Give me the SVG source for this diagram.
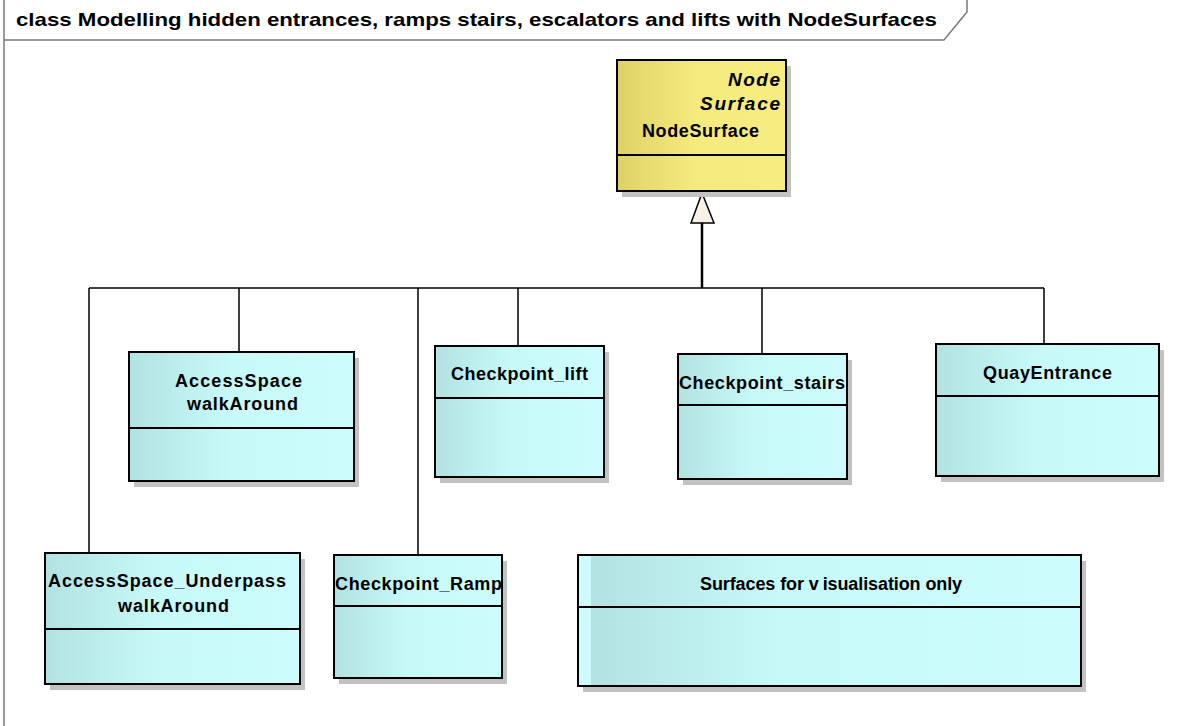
<svg xmlns="http://www.w3.org/2000/svg" width="1201" height="726" viewBox="0 0 1201 726">
<defs>
<linearGradient id="gy" x1="0" y1="0" x2="1" y2="0">
<stop offset="0" stop-color="#dfd165"/>
<stop offset="0.45" stop-color="#f5ea7e"/>
<stop offset="1" stop-color="#f6ec80"/>
</linearGradient>
<linearGradient id="gc" x1="0" y1="0" x2="1" y2="0">
<stop offset="0" stop-color="#b2e3e2"/>
<stop offset="0.45" stop-color="#c8f9f9"/>
<stop offset="1" stop-color="#ccfcfc"/>
</linearGradient>
<linearGradient id="gc2" x1="0" y1="0" x2="1" y2="0">
<stop offset="0" stop-color="#ccfcfc"/>
<stop offset="0.025" stop-color="#ccfcfc"/>
<stop offset="0.026" stop-color="#b2e3e2"/>
<stop offset="0.4" stop-color="#c8f9f9"/>
<stop offset="1" stop-color="#ccfcfc"/>
</linearGradient>
<style>
.sh{fill:#c2c2c2}
.bx{stroke:#000;stroke-width:2}
.dv{stroke:#000;stroke-width:2}
.t{font-family:"Liberation Sans",Arial,sans-serif;font-weight:bold;font-size:18px;fill:#000}
.tt{font-family:"Liberation Sans",Arial,sans-serif;font-weight:bold;font-size:19px;fill:#000}
.ti{font-family:"Liberation Sans",Arial,sans-serif;font-weight:bold;font-style:italic;font-size:19px;fill:#000}
.c{fill:none;stroke:#000;stroke-width:1.5}
.frame{fill:none;stroke:#7a7a7a;stroke-width:1.5}
</style>
</defs>
<rect width="1201" height="726" fill="#fff"/>
<g id="frame">
<path class="frame" d="M4,0 V726 M4,40 H944 L967,12 V0"/>
<text class="tt" x="16" y="26" textLength="921" lengthAdjust="spacingAndGlyphs">class Modelling hidden entrances, ramps stairs, escalators and lifts with NodeSurfaces</text>
</g>
<g id="connectors">
<path class="c" d="M89,288 H1044 M89,288 V553 M239,288 V352 M418,288 V555 M518,288 V346 M762,288 V354 M1044,288 V344"/>
<path d="M702,223 V288" fill="none" stroke="#000" stroke-width="2.5"/>
<polygon points="702,193 691,223 714,223" fill="#f9f1e3" stroke="#000" stroke-width="1.5"/>
</g>
<g id="NodeSurface">
<rect class="sh" x="622" y="66" width="169" height="131"/>
<rect class="bx" x="617" y="60" width="169" height="131" fill="url(#gy)"/>
<line class="dv" x1="617" y1="155" x2="786" y2="155"/>
<text class="ti" x="728" y="86" textLength="52">Node</text>
<text class="ti" x="700" y="110" textLength="80">Surface</text>
<text class="t" x="642" y="137" textLength="117">NodeSurface</text>
</g>
<g id="AccessSpace_walkAround">
<rect class="sh" x="134" y="358" width="225" height="129"/>
<rect class="bx" x="129" y="352" width="225" height="129" fill="url(#gc)"/>
<line class="dv" x1="129" y1="428" x2="354" y2="428"/>
<text class="t" x="175" y="387" textLength="127">AccessSpace</text>
<text class="t" x="187" y="410" textLength="111">walkAround</text>
</g>
<g id="Checkpoint_lift">
<rect class="sh" x="440" y="352" width="169" height="131"/>
<rect class="bx" x="435" y="346" width="169" height="131" fill="url(#gc)"/>
<line class="dv" x1="435" y1="398" x2="604" y2="398"/>
<text class="t" x="451" y="380" textLength="137">Checkpoint_lift</text>
</g>
<g id="Checkpoint_stairs">
<rect class="sh" x="683" y="360" width="169" height="125"/>
<rect class="bx" x="678" y="354" width="169" height="125" fill="url(#gc)"/>
<line class="dv" x1="678" y1="405" x2="847" y2="405"/>
<text class="t" x="679" y="389" textLength="166">Checkpoint_stairs</text>
</g>
<g id="QuayEntrance">
<rect class="sh" x="941" y="350" width="223" height="132"/>
<rect class="bx" x="936" y="344" width="223" height="132" fill="url(#gc)"/>
<line class="dv" x1="936" y1="396" x2="1159" y2="396"/>
<text class="t" x="983" y="379" textLength="129">QuayEntrance</text>
</g>
<g id="AccessSpace_Underpass_walkAround">
<rect class="sh" x="50" y="559" width="255" height="131"/>
<rect class="bx" x="45" y="553" width="255" height="131" fill="url(#gc)"/>
<line class="dv" x1="45" y1="629" x2="300" y2="629"/>
<text class="t" x="48" y="587" textLength="238">AccessSpace_Underpass</text>
<text class="t" x="118" y="612" textLength="111">walkAround</text>
</g>
<g id="Checkpoint_Ramp">
<rect class="sh" x="339" y="561" width="168" height="123"/>
<rect class="bx" x="334" y="555" width="168" height="123" fill="url(#gc)"/>
<line class="dv" x1="334" y1="606" x2="502" y2="606"/>
<text class="t" x="335" y="590" textLength="167">Checkpoint_Ramp</text>
</g>
<g id="Surfaces_for_visualisation_only">
<rect class="sh" x="583" y="561" width="503" height="131"/>
<rect class="bx" x="578" y="555" width="503" height="131" fill="url(#gc2)"/>
<line class="dv" x1="578" y1="607" x2="1081" y2="607"/>
<text class="t" x="700" y="590" letter-spacing="-0.1">Surfaces for v<tspan dx="4">isualisation only</tspan></text>
</g>
</svg>
